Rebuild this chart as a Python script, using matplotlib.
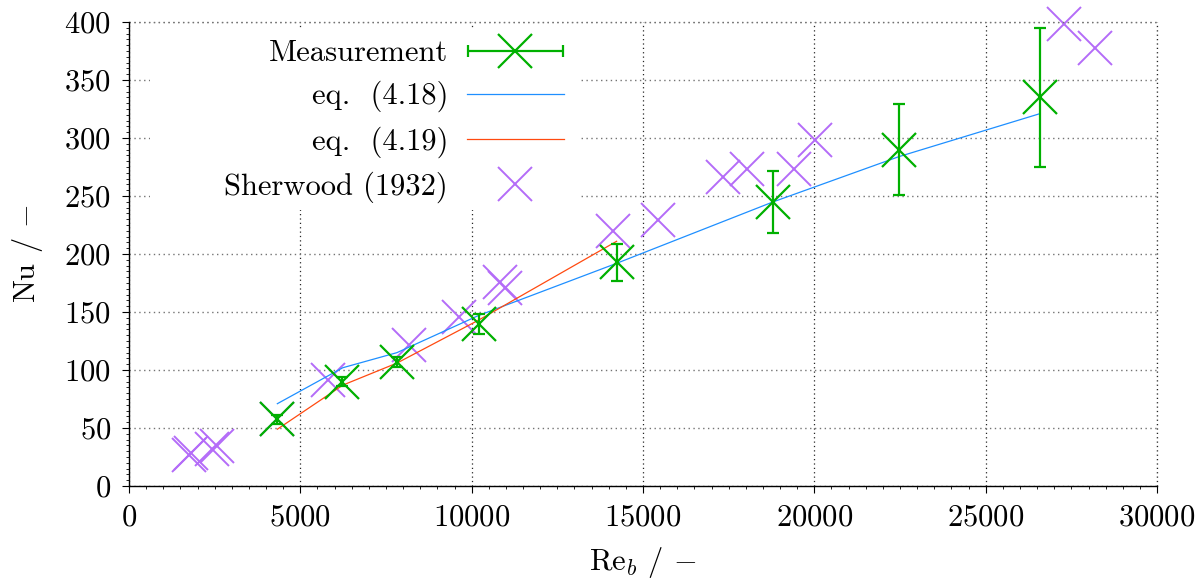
import numpy as np
import matplotlib.pyplot as plt
from matplotlib.container import ErrorbarContainer
from matplotlib.legend_handler import HandlerErrorbar
from matplotlib.patches import Rectangle

# Messwerte mit Fehlerbalken
re_meas = np.array([4310, 6225, 7820, 10200, 14230, 18800, 22470, 26580])
nu_meas = np.array([57.5, 90, 107, 140, 193, 245, 290, 335])
nu_err = np.array([4, 4, 4, 8.5, 16, 27, 39, 60])

# Korrelationen
re_eq18 = np.array([4330, 6240, 7820, 10200, 14230, 18800, 22470, 26580])
nu_eq18 = np.array([71, 102, 115, 147, 192, 245, 284, 321])
re_eq19 = np.array([4330, 6240, 7820, 10200, 14230])
nu_eq19 = np.array([49, 87, 106, 143, 211])

# Sherwood (1932)
re_sher = np.array([1740, 1810, 2410, 2560, 4310, 5800, 8180, 9630, 10830, 10970,
                    14130, 15430, 17320, 18030, 19410, 20020, 27280, 28190])
nu_sher = np.array([27, 28.7, 32, 34.7, 57.5, 91, 121.5, 145.5, 175.5, 170.5,
                    220, 229, 266, 273, 273, 298, 398, 378])

plt.rcParams['font.family'] = 'serif'
plt.rcParams['font.serif'] = ['cmr10']
plt.rcParams['mathtext.fontset'] = 'cm'
plt.rcParams['axes.formatter.use_mathtext'] = True
plt.rcParams['font.size'] = 22

green = '#00b000'
blue = '#1e8fff'
orange = '#ff4a10'
purple = '#b46cf8'

fig = plt.figure(figsize=(12.02, 5.80), dpi=100)
ax = fig.add_axes([0.1073, 0.162, 0.8553, 0.800])

eb = ax.errorbar(re_meas, nu_meas, yerr=nu_err, fmt='x', color=green, ms=24, mew=1.6,
                 elinewidth=1.6, capsize=4, capthick=1.6, zorder=4)
for art in eb.get_children():
    art.set_clip_on(False)
l18, = ax.plot(re_eq18, nu_eq18, color=blue, lw=0.9, zorder=3)
l19, = ax.plot(re_eq19, nu_eq19, color=orange, lw=0.9, zorder=3)
sh, = ax.plot(re_sher, nu_sher, 'x', color=purple, ms=24, mew=1.4, zorder=2,
              clip_on=False)

# Legendensymbol mit horizontalem Fehlerbalken
proxy_line, = ax.plot([np.nan], [np.nan], 'x', color=green, ms=24, mew=1.6)
proxy_cap, = ax.plot([np.nan], [np.nan], '|', color=green, ms=8, mew=1.6)
proxy_bar = ax.hlines([np.nan], [np.nan], [np.nan], color=green, lw=1.6)
proxy = ErrorbarContainer((proxy_line, (proxy_cap,), (proxy_bar,)),
                          has_xerr=True, has_yerr=False)

ax.set_xlim(0, 30000)
ax.set_ylim(0, 400)
ax.set_xticks(np.arange(0, 30001, 5000))
ax.set_yticks(np.arange(0, 401, 50))
ax.set_xticks(np.arange(0, 30001, 500), minor=True)
ax.set_yticks(np.arange(0, 401, 5), minor=True)
ax.tick_params(which='major', direction='out', length=5, width=0.8, pad=8)
ax.tick_params(which='minor', direction='out', length=2.5, width=0.6)

ax.grid(True, axis='y', linestyle=(0, (1, 2.5)), color='0.45', lw=1.0)
ax.grid(True, axis='x', linestyle=(0, (1, 2.5)), color='0.15', lw=0.9)
ax.spines['top'].set_visible(False)
ax.spines['right'].set_visible(False)
ax.spines['left'].set_linewidth(1.0)
ax.spines['bottom'].set_linewidth(1.0)
ax.axvline(30000, linestyle=(0, (1, 2.5)), color='0.15', lw=0.9, clip_on=False)
ax.axhline(400, linestyle=(0, (1, 2.5)), color='0.45', lw=1.0, clip_on=False)

# Hintergrund der Legende verdeckt das Gitter
ax.add_patch(Rectangle((0.02, 0.595), 0.419, 0.392, transform=ax.transAxes,
                       facecolor='white', edgecolor='none', zorder=1.8))

ax.set_xlabel(r'Re$_b$ / $-$', labelpad=10)
ax.set_ylabel(r'Nu / $-$', labelpad=14)

ax.legend([proxy, l18, l19, sh],
          ['Measurement', 'eq.  (4.18)', 'eq.  (4.19)', 'Sherwood (1932)'],
          handler_map={ErrorbarContainer: HandlerErrorbar(xerr_size=1.55)},
          markerfirst=False, frameon=False, loc='upper left',
          bbox_to_anchor=(0.081, 0.988), handlelength=3.2, handletextpad=0.6,
          labelspacing=0.45, borderaxespad=0)

fig.savefig('out.png', dpi=100)
